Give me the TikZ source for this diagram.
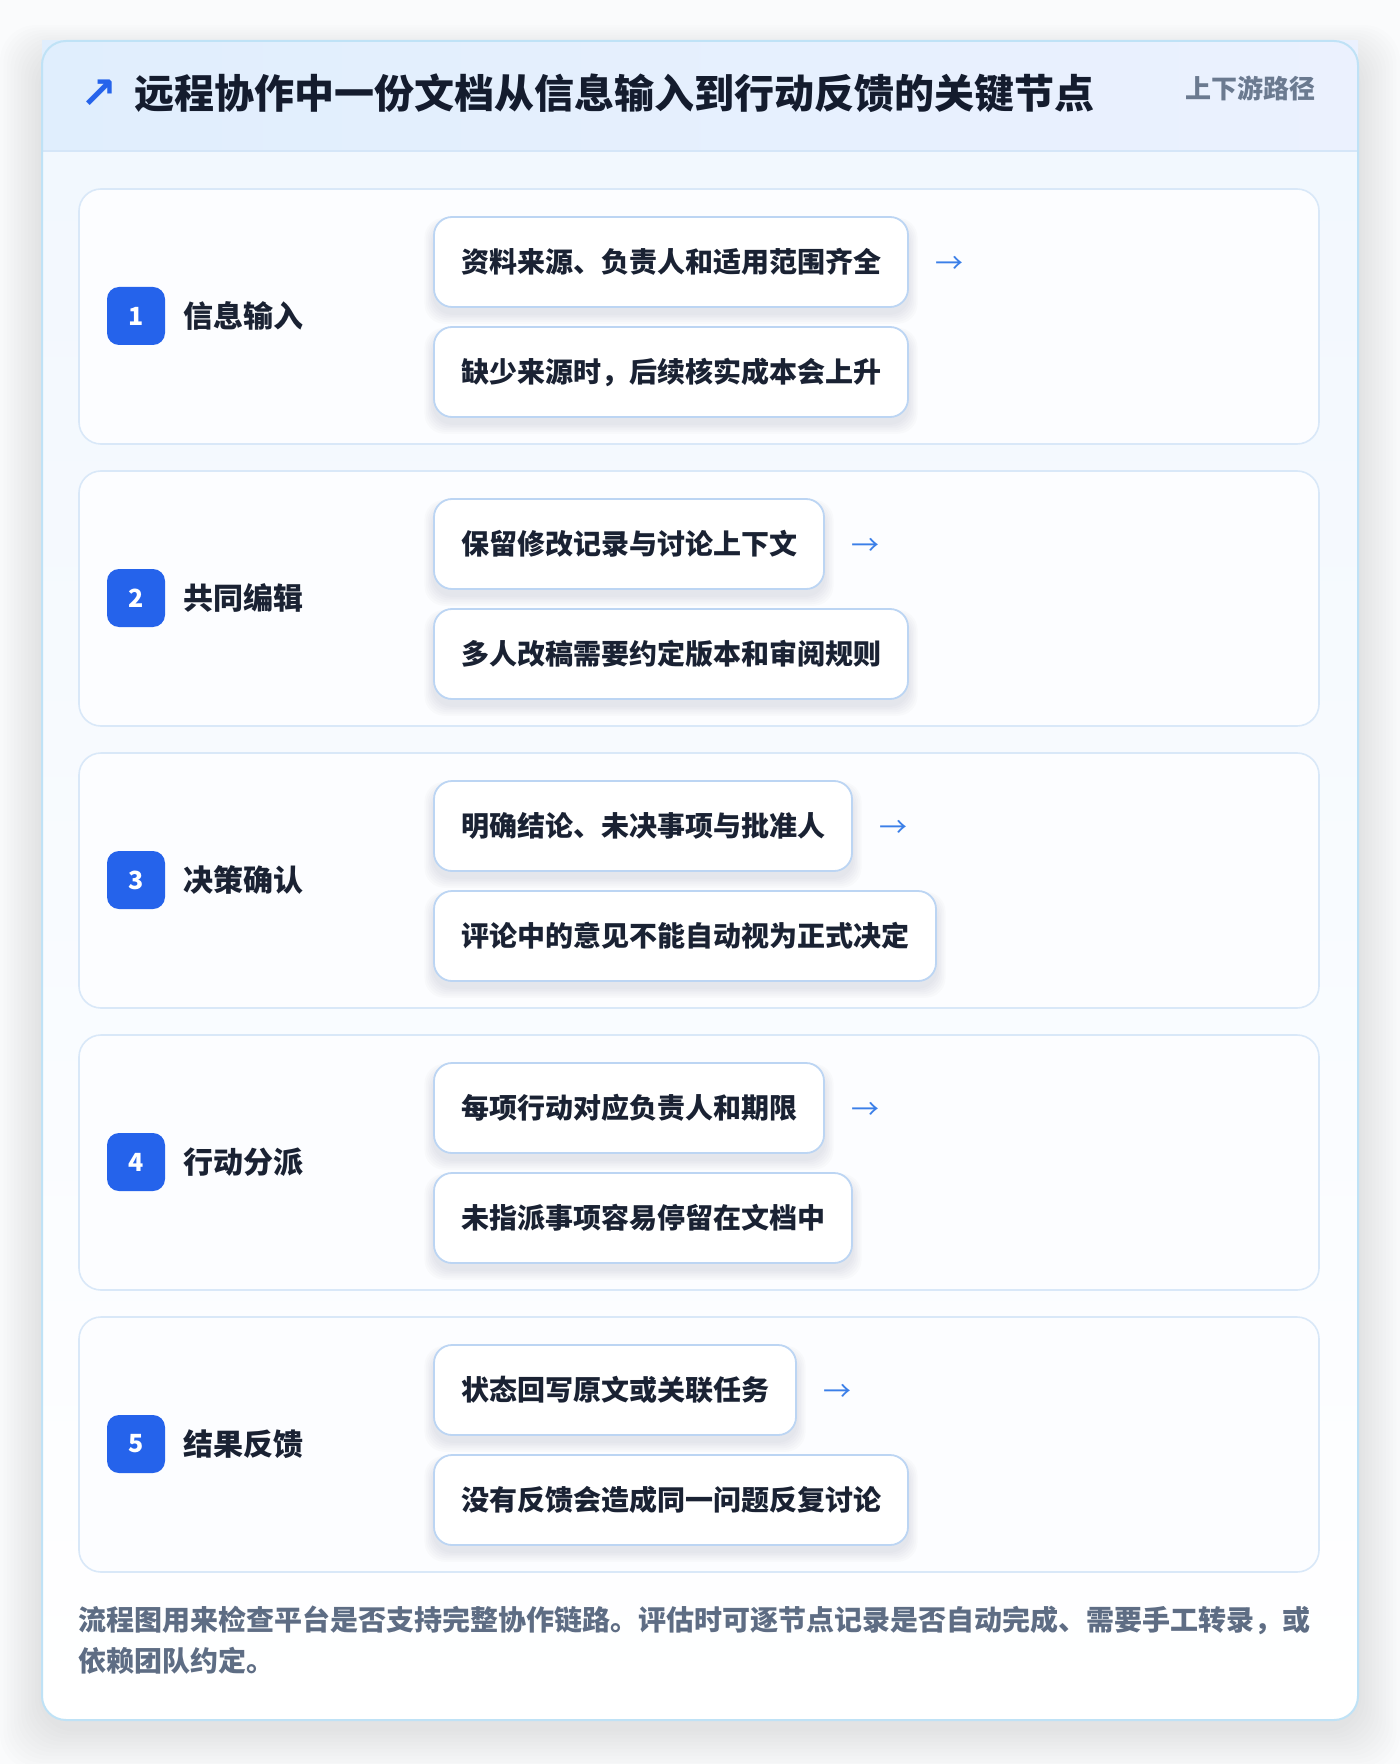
\documentclass[tikz,border=0pt]{standalone}
\usepackage{fontspec}
\setmainfont{Noto Sans CJK SC}
\newfontfamily\symfont{DejaVu Sans}
\usetikzlibrary{positioning,calc}
\definecolor{pagebg}{HTML}{FAFBFC}
\definecolor{cardborder}{HTML}{BFE2F6}
\definecolor{headleft}{HTML}{E0EEFD}
\definecolor{headright}{HTML}{EBF1FE}
\definecolor{headline}{HTML}{D5E6F8}
\definecolor{bodytop}{HTML}{F1F7FE}
\definecolor{stepfill}{HTML}{FCFDFF}
\definecolor{stepline}{HTML}{D9E8F8}
\definecolor{itemline}{HTML}{BCD5F3}
\definecolor{badgeblue}{HTML}{2563EB}
\definecolor{arrowblue}{HTML}{3B7FE8}
\definecolor{titlecol}{HTML}{141C2E}
\definecolor{labelcol}{HTML}{1A2233}
\definecolor{subcol}{HTML}{6B7A90}
\definecolor{footcol}{HTML}{5E6D84}
\definecolor{shadowcol}{HTML}{1E2A3C}
\pgfdeclarelayer{back}
\pgfdeclarelayer{shade}
\pgfsetlayers{back,shade,main}
\begin{document}
\begin{tikzpicture}[x=0.5pt,y=-0.5pt,
  stepcard/.style={draw=stepline, line width=0.8pt, fill=stepfill, rounded corners=11pt,
    minimum width=620pt, minimum height=127.5pt, inner sep=0pt, outer sep=0pt},
  itembox/.style={draw=itemline, line width=0.9pt, fill=white, rounded corners=9pt,
    minimum height=45pt, inner xsep=13.5pt, inner ysep=0pt, outer sep=0pt, anchor=west,
    text=labelcol, font=\fontsize{14}{16}\selectfont\bfseries},
  itemshade/.style={fill=shadowcol, opacity=0.016, rounded corners=10pt},
  cardshade/.style={fill=shadowcol, opacity=0.0065, rounded corners=18pt},
  badge/.style={fill=badgeblue, rounded corners=6pt, minimum size=29pt, inner sep=0pt,
    text=white, font=\fontsize{12.5}{14}\selectfont\bfseries},
  steplabel/.style={anchor=west, inner sep=0pt, text=labelcol, font=\fontsize{15}{17}\selectfont\bfseries},
  arrowtxt/.style={inner sep=0pt, text=arrowblue, font=\fontsize{14}{16}\selectfont},
  foottxt/.style={anchor=west, inner sep=0pt, text=footcol, font=\fontsize{14}{16}\selectfont\bfseries}
]
\useasboundingbox (0,0) rectangle (1400,1764);
\begin{pgfonlayer}{back}
\fill[pagebg] (0,0) rectangle (1400,1764);
% soft shadow of the outer card
\foreach \k in {1,...,12}{
  \fill[cardshade] (42-3.5*\k,41-2.5*\k+14) rectangle (1358+3.5*\k,1720+3.5*\k+8);
}
\path[top color=bodytop, bottom color=white, rounded corners=12pt] (42,41) rectangle (1358,1720);
\path[left color=headleft, right color=headright] (42,41) rectangle (1358,151);
\draw[headline, line width=1pt] (42,151) -- (1358,151);
\draw[cardborder, line width=1pt, rounded corners=12pt] (42,41) rectangle (1358,1720);
\end{pgfonlayer}
\node[inner sep=0pt, text=badgeblue, font=\fontsize{22}{24}\selectfont\symfont\bfseries] (titlearrow) at (99,94) {↗};
\node[anchor=west, inner sep=0pt, text=titlecol, font=\fontsize{20}{24}\selectfont\bfseries] (title) at (134,93) {远程协作中一份文档从信息输入到行动反馈的关键节点};
\node[anchor=east, inner sep=0pt, text=subcol, font=\fontsize{13}{15}\selectfont\bfseries] (subtitle) at (1316,88) {上下游路径};
% steps
\foreach \i/\lab/\a/\b in {
  1/信息输入/资料来源、负责人和适用范围齐全/缺少来源时，后续核实成本会上升,
  2/共同编辑/保留修改记录与讨论上下文/多人改稿需要约定版本和审阅规则,
  3/决策确认/明确结论、未决事项与批准人/评论中的意见不能自动视为正式决定,
  4/行动分派/每项行动对应负责人和期限/未指派事项容易停留在文档中,
  5/结果反馈/状态回写原文或关联任务/没有反馈会造成同一问题反复讨论}{
  \pgfmathsetmacro\T{189+282*(\i-1)}
  \begin{pgfonlayer}{back}
  \node[stepcard] (card\i) at (699,\T+127.5) {};
  \end{pgfonlayer}
  \node[badge] (badge\i) at (136,\T+127) {\i};
  \node[steplabel] (label\i) at (183,\T+127) {\lab};
  \node[itembox] (itema\i) at (434,\T+73) {\a};
  \node[itembox] (itemb\i) at (434,\T+183) {\b};
  \node[arrowtxt, anchor=west, right=13.5pt of itema\i, yshift=-1.5pt] (arrow\i) {→};
  \begin{pgfonlayer}{shade}
  \foreach \k in {1,...,6}{
    \fill[itemshade] ($(itema\i.north west)+(-1.6*\k,8-1.2*\k)$) rectangle ($(itema\i.south east)+(1.6*\k,6+1.8*\k)$);
    \fill[itemshade] ($(itemb\i.north west)+(-1.6*\k,8-1.2*\k)$) rectangle ($(itemb\i.south east)+(1.6*\k,6+1.8*\k)$);
  }
  \end{pgfonlayer}
}
\node[foottxt] (foot1) at (78,1620) {流程图用来检查平台是否支持完整协作链路。评估时可逐节点记录是否自动完成、需要手工转录，或};
\node[foottxt] (foot2) at (78,1661) {依赖团队约定。};
\end{tikzpicture}
\end{document}
